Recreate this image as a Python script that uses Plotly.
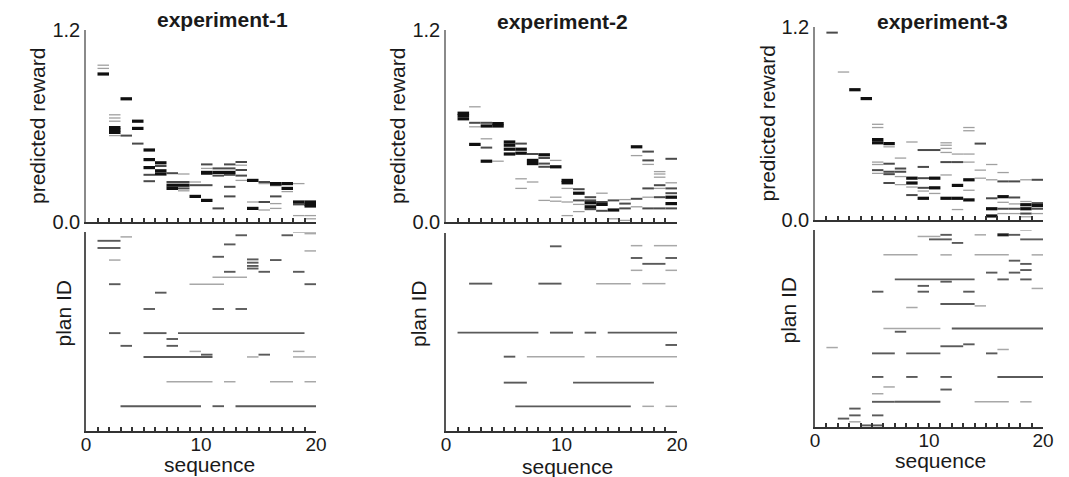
import plotly.graph_objects as go

W, H = 1069, 477

# ---------------- data: predicted reward (top panels) ----------------
# each mark: sequence step, predicted reward, weight (1 light, 2 medium, 3 dark)
exp1_seq = [1,1,1, 2,2,2,2,2,2,2, 3,3, 4,4,4, 5,5,5,5,5, 6,6,6,6, 7,7,7,7, 8,8,8,8,8,
            9,9,9, 10,10,10,10,10,10, 11,11,11,11, 12,12,12,12,12,12, 13,13,13,13,13,
            14,14,14, 15,15,15,15, 16,16,16,16,16, 17,17,17, 18,18,18,18, 19,19,19,19,19]
exp1_reward = [0.98,0.96,0.925, 0.67,0.65,0.63,0.59,0.575,0.56,0.54, 0.77,0.54, 0.63,0.585,0.49,
               0.45,0.39,0.34,0.295,0.255, 0.37,0.35,0.32,0.30, 0.305,0.25,0.23,0.21,
               0.30,0.25,0.23,0.21,0.195, 0.25,0.23,0.16, 0.36,0.335,0.31,0.30,0.23,0.135,
               0.335,0.31,0.29,0.085, 0.36,0.335,0.31,0.295,0.22,0.16, 0.375,0.355,0.325,0.29,0.26,
               0.26,0.125,0.085, 0.25,0.24,0.125,0.075, 0.24,0.23,0.16,0.115,0.085,
               0.24,0.21,0.19, 0.24,0.125,0.11,0.04, 0.125,0.11,0.10,0.04,0.02]
exp1_weight = [1,1,3, 1,1,1,3,3,3,1, 3,2, 3,3,2, 3,3,3,2,2, 3,2,3,3, 2,2,3,3, 1,2,3,2,1,
               1,2,3, 2,1,3,2,2,3, 2,3,2,2, 2,2,3,2,2,2, 2,1,2,2,1,
               3,1,3, 2,1,2,1, 3,2,2,1,1, 3,3,1, 1,3,2,1, 3,3,3,1,1]

exp2_seq = [1,1,1, 2,2,2,2, 3,3,3,3,3, 4,4,4, 5,5,5,5, 6,6,6,6,6, 7,7,7,7, 8,8,8,8,8,
            9,9,9,9, 10,10,10,10,10, 11,11,11,11,11, 12,12,12,12,12, 13,13,13,13,
            14,14,14, 15,15,15,15, 16,16,16,16, 17,17,17,17,17,17, 18,18,18,18,18,18,18,
            19,19,19,19,19,19,19]
exp2_reward = [0.68,0.665,0.645, 0.72,0.62,0.595,0.485, 0.62,0.60,0.52,0.465,0.38, 0.615,0.60,0.38,
               0.50,0.48,0.455,0.425, 0.49,0.455,0.43,0.27,0.21, 0.425,0.385,0.365,0.25,
               0.42,0.40,0.365,0.345,0.135, 0.385,0.345,0.155,0.13, 0.26,0.245,0.21,0.125,0.04,
               0.205,0.18,0.135,0.11,0.065, 0.155,0.135,0.12,0.095,0.08, 0.18,0.125,0.11,0.07,
               0.135,0.075,0.02, 0.14,0.115,0.085,0.01, 0.47,0.415,0.145,0.095,
               0.44,0.385,0.36,0.21,0.155,0.085, 0.315,0.30,0.28,0.23,0.21,0.155,0.085,
               0.395,0.245,0.21,0.18,0.155,0.115,0.085]
exp2_weight = [3,3,3, 1,2,1,3, 2,3,1,2,3, 3,3,1, 3,3,3,3, 2,3,3,1,1, 2,3,3,1, 3,2,2,2,1,
               1,3,1,1, 3,3,1,1,1, 2,3,2,1,1, 2,2,3,3,2, 1,2,3,2,
               2,3,1, 1,2,2,1, 3,1,2,1, 2,2,1,2,1,2, 1,1,1,2,1,2,2,
               2,1,2,2,3,3,2]

exp3_seq = [1, 2, 3, 4, 5,5,5,5,5,5,5,5, 6,6,6,6,6,6, 7,7,7,7,7, 8,8,8,8,8,
            9,9,9,9,9,9, 10,10,10,10, 11,11,11,11,11,11,11, 12,12,12,12,12,
            13,13,13,13,13,13,13, 14,14,14, 15,15,15,15,15, 16,16,16,16,16,16,
            17,17,17,17,17, 18,18,18,18,18,18, 19,19,19,19,19]
exp3_reward = [1.165, 0.92, 0.81, 0.755, 0.595,0.575,0.50,0.48,0.36,0.345,0.31,0.29,
               0.475,0.455,0.35,0.30,0.285,0.23, 0.385,0.32,0.30,0.27,0.22,
               0.485,0.26,0.23,0.205,0.155, 0.435,0.33,0.26,0.20,0.18,0.135,
               0.435,0.26,0.20,0.165, 0.48,0.465,0.445,0.42,0.36,0.28,0.135,
               0.41,0.36,0.215,0.135,0.065, 0.575,0.555,0.41,0.36,0.25,0.185,0.125,
               0.475,0.31,0.26, 0.345,0.25,0.135,0.07,0.025, 0.295,0.24,0.145,0.11,0.07,0.04,
               0.24,0.14,0.10,0.07,0.04, 0.25,0.115,0.095,0.07,0.04,0.02,
               0.25,0.105,0.09,0.07,0.04]
exp3_weight = [2, 1, 3, 3, 1,1,3,3,1,1,2,1, 3,1,2,2,2,2, 1,2,2,1,1, 1,3,3,1,2,
               2,2,2,2,1,3, 2,3,3,1, 1,1,1,1,2,1,3, 1,2,3,3,1, 1,1,1,1,3,1,3,
               2,1,1, 1,1,2,3,3, 1,2,3,1,2,1, 2,2,1,2,1, 1,1,3,3,2,1, 2,2,3,2,1]

# ---------------- data: plan ID (bottom panels) ----------------
# each run: plan ID, first step, last step, weight
exp1_plan = [58.3,56.1,59.5,52.4,45,45,45,42.4,37.4,37.4,37.4,30,30,30,28.2,26.1,26.1,24.4,24.4,
             23.4,23.4,22.7,22.7,22.7,15.1,15.1,15.1,15.1,7.6,7.6,7.6,60,60,57.2,55.2,53.4,
             52.6,51.6,50.6,49.8,52.4,48.8,48.8,48.8,47.1,61,60.5]
exp1_start = [1,1,3,2,2,9,19,6,5,11,13,2,5,8,7,3,7,9,18,10,15,5,14,18,7,12,16,19,3,11,13,
              13,17,12,19,11,14,14,14,14,16,12,15,18,11,18,19]
exp1_end = [3,3,4,3,3,12,20,7,6,12,14,3,7,19,8,4,8,10,19,11,16,11,15,20,11,13,18,20,10,12,20,
            14,18,13,20,12,15,15,15,15,17,13,16,19,14,20,20]
exp1_pw = [2,2,1,1,2,1,2,2,2,2,2,2,2,2,2,2,2,1,1,2,2,2,1,1,1,1,1,1,2,2,2,
           2,2,2,1,2,2,2,2,2,2,2,2,2,1,1,1]

exp2_plan = [56.9,57.1,57.1,53.3,53.3,51.5,49.5,49.5,45.4,45.4,45.4,45.4,30.3,30.3,30.3,30.3,
             26.5,22.9,22.9,22.9,14.9,14.9,7.6,7.6,7.6]
exp2_start = [9,16,18,16,19,17,16,19,2,8,13,17,1,9,12,14,19,5,7,13,5,11,6,17,19]
exp2_end = [10,17,20,17,20,19,17,20,4,10,16,19,8,11,13,20,20,6,12,20,7,18,16,18,20]
exp2_pw = [2,1,1,2,2,2,1,1,2,2,1,1,2,2,2,2,2,2,1,1,2,2,2,1,1]

exp3_plan = [59.5,59.5,59.5,59.5,59,58.1,58.1,57,61,53.3,53.3,53.3,53.3,51.5,50.5,48.6,47.8,47.8,
             45.7,45.7,45.7,45,43.7,42.9,41.9,41.9,41.9,38.1,37.5,37,30.5,30.5,29.5,25,25.6,
             24.6,24,22.8,22.8,22.8,15.5,15.5,15.5,15.5,12.4,11.6,10.3,7.8,7.8,7.8,7.8,
             5.7,3.6,3.6,2.6,1.6,0.5]
exp3_start = [11,14,16,17,9,10,18,12,18,6,11,14,19,17,18,18,15,17,7,16,18,11,9,19,5,9,13,11,14,8,
              6,12,7,11,13,1,16,5,8,15,5,8,11,16,6,11,5,5,7,14,18,3,3,5,2,3,4]
exp3_end = [12,15,17,18,11,12,20,13,19,9,12,17,20,18,19,19,16,18,14,17,19,12,10,20,6,10,14,14,15,9,
            11,20,8,13,14,2,17,7,11,16,6,9,12,20,7,12,6,7,11,17,19,4,4,6,3,4,6]
exp3_pw = [2,1,3,2,1,2,2,2,1,1,1,1,1,2,2,2,2,2,2,2,2,2,2,1,2,2,2,2,1,1,1,2,2,2,2,
           1,1,2,2,2,2,2,2,2,1,2,1,2,2,1,1,2,2,2,2,1,2]

titles = ["experiment-1", "experiment-2", "experiment-3"]
top_data = [(exp1_seq, exp1_reward, exp1_weight),
            (exp2_seq, exp2_reward, exp2_weight),
            (exp3_seq, exp3_reward, exp3_weight)]
bot_data = [(exp1_plan, exp1_start, exp1_end, exp1_pw),
            (exp2_plan, exp2_start, exp2_end, exp2_pw),
            (exp3_plan, exp3_start, exp3_end, exp3_pw)]

# ---------------- layout geometry (screen pixels; page has an 8px body margin) ----------------
OX, OY = 8, 8


def fx(px):
    return (px - OX) / W


def fy(py):
    return 1 - (py - OY) / H


panels = [
    dict(x=(86, 316), top=(30, 222), bot=(232, 431), title=(222, 20), ylab=38, plab=63, seq=(209, 464)),
    dict(x=(446, 677), top=(30, 222), bot=(233, 431), title=(562, 22), ylab=398, plab=418, seq=(567, 466)),
    dict(x=(815, 1043), top=(27, 220), bot=(230, 427), title=(942, 22), ylab=767, plab=788, seq=(940, 460)),
]
top_style = {1: ("#a0a0a0", 1.3), 2: ("#4a4a4a", 2.0), 3: ("#101010", 3.2)}
bot_style = {1: ("#a8a8a8", 1.5), 2: ("#5a5a5a", 1.9), 3: ("#202020", 3.0)}
FONT = "Liberation Sans, Arial, Helvetica, sans-serif"
INK = "#1a1a1a"


def segs(starts, ends, ys):
    xs, yv = [], []
    for a, b, y in zip(starts, ends, ys):
        xs += [a, b, None]
        yv += [y, y, None]
    return xs, yv


fig = go.Figure()
layout = {}
annotations = []

for i, p in enumerate(panels):
    kt = 2 * i + 1
    kb = 2 * i + 2
    xd = [fx(p["x"][0]), fx(p["x"][1])]
    # top panel
    seq, rew, wt = top_data[i]
    for w, (col, lw) in top_style.items():
        sel = [j for j in range(len(seq)) if wt[j] == w]
        xs, yv = segs([seq[j] for j in sel], [seq[j] + 1 for j in sel], [rew[j] for j in sel])
        fig.add_trace(go.Scatter(x=xs, y=yv, mode="lines", line=dict(color=col, width=lw),
                                 xaxis=f"x{kt}", yaxis=f"y{kt}", showlegend=False, hoverinfo="skip"))
    # bottom panel
    pid, st, en, pw = bot_data[i]
    for w, (col, lw) in bot_style.items():
        sel = [j for j in range(len(pid)) if pw[j] == w]
        xs, yv = segs([st[j] for j in sel], [en[j] for j in sel], [pid[j] for j in sel])
        fig.add_trace(go.Scatter(x=xs, y=yv, mode="lines", line=dict(color=col, width=lw),
                                 xaxis=f"x{kb}", yaxis=f"y{kb}", showlegend=False, hoverinfo="skip"))

    tickvals = list(range(0, 21))
    common_x = dict(range=[0, 20], domain=xd, showgrid=False, zeroline=False, showline=True,
                    linecolor="#333", linewidth=1.5, ticks="inside", ticklen=4, tickwidth=1.5,
                    tickcolor="#333", tickvals=tickvals, fixedrange=True, automargin=False)
    layout[f"xaxis{kt}"] = dict(common_x, anchor=f"y{kt}", ticktext=[""] * 21)
    layout[f"xaxis{kb}"] = dict(common_x, anchor=f"y{kb}",
                                ticktext=[str(v) if v % 10 == 0 else "" for v in tickvals],
                                ticklabelstandoff=-5,
                                tickfont=dict(family=FONT, size=19, color=INK))
    layout[f"yaxis{kt}"] = dict(range=[0, 1.2], domain=[fy(p["top"][1]), fy(p["top"][0])],
                                anchor=f"x{kt}", showgrid=False, zeroline=False, showline=True,
                                linecolor="#8a8a8a", linewidth=1.5, ticks="",
                                tickvals=[0, 1.2], ticktext=["0.0", "1.2"], automargin=False,
                                tickfont=dict(family=FONT, size=20, color=INK), fixedrange=True)
    layout[f"yaxis{kb}"] = dict(range=[0, 61], domain=[fy(p["bot"][1]), fy(p["bot"][0])],
                                anchor=f"x{kb}", showgrid=False, zeroline=False, showline=True,
                                linecolor="#555", linewidth=1.5, ticks="", showticklabels=False,
                                fixedrange=True, automargin=False)
    annotations += [
        dict(text=f"<b>{titles[i]}</b>", x=fx(p["title"][0]), y=fy(p["title"][1]),
             xref="paper", yref="paper", showarrow=False, xanchor="center", yanchor="middle",
             font=dict(family=FONT, size=21, color=INK)),
        dict(text="predicted reward", x=fx(p["ylab"]), y=fy((p["top"][0] + p["top"][1]) / 2),
             xref="paper", yref="paper", showarrow=False, textangle=-90, xanchor="center",
             yanchor="middle", font=dict(family=FONT, size=21, color=INK)),
        dict(text="plan ID", x=fx(p["plab"]), y=fy((p["bot"][0] + p["bot"][1]) / 2 - 18),
             xref="paper", yref="paper", showarrow=False, textangle=-90, xanchor="center",
             yanchor="middle", font=dict(family=FONT, size=21, color=INK)),
        dict(text="sequence", x=fx(p["seq"][0]), y=fy(p["seq"][1]),
             xref="paper", yref="paper", showarrow=False, xanchor="center", yanchor="middle",
             font=dict(family=FONT, size=21, color=INK)),
    ]

fig.update_layout(width=W, height=H, margin=dict(l=0, r=0, t=0, b=0, autoexpand=False),
                  paper_bgcolor="white", plot_bgcolor="white",
                  annotations=annotations, **layout)
fig.write_html("out.html")
